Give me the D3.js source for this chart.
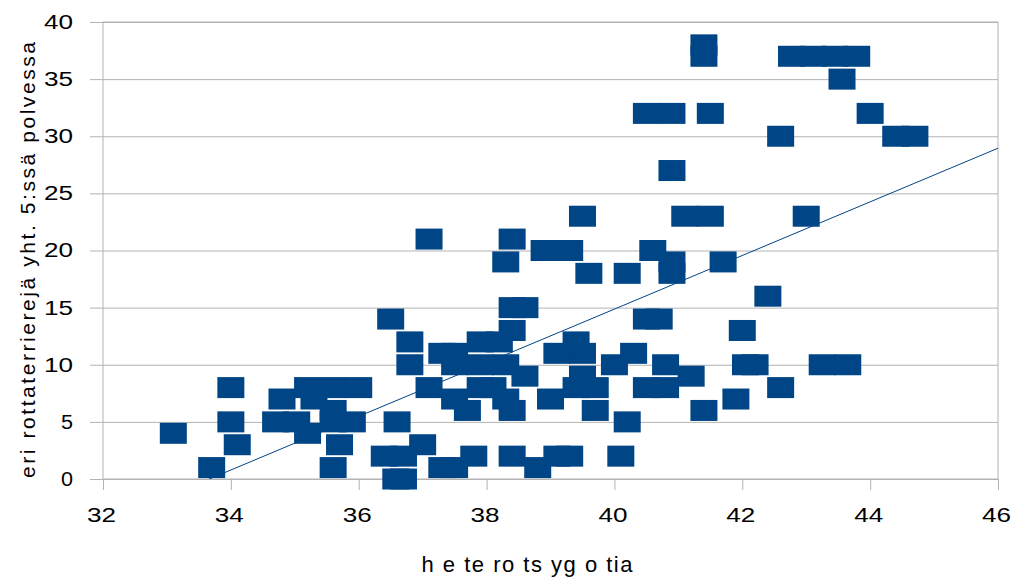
<!DOCTYPE html>
<html>
<head>
<meta charset="utf-8">
<script src="https://cdn.jsdelivr.net/npm/d3@7"></script>
<style>
    body { margin: 0; background: #fff; }
    text { font-family: "Liberation Sans", Arial, sans-serif; fill: #000; }
    .ticklabel { font-size: 20px; }
</style>
</head>
<body>
<svg id="chart" width="1014" height="579"></svg>
<script>

// heterozygosity (x) and number of different rat terriers (y)
var heterotsygotia = [
    36.58, 36.7,
    33.7, 35.6, 37.3, 37.5, 38.8,
    36.4, 36.7, 37.8, 38.4, 39.1, 39.3, 40.1,
    34.1, 35.7, 37.0,
    33.1, 35.2,
    34.0, 34.7, 35.03, 35.6, 35.9, 36.6, 40.2,
    35.6, 37.7, 38.4, 39.7, 41.4,
    34.8, 35.3, 37.5, 38.3, 39.0, 41.9,
    34.0, 35.2, 35.6, 36.0, 37.1, 37.9, 38.1, 39.4, 39.7, 40.5, 40.8, 42.6,
    38.6, 39.5, 41.2,
    36.8, 37.5, 37.9, 38.3, 40.0, 40.8, 42.05, 42.2, 43.25, 43.65,
    37.3, 37.5, 39.1, 39.5, 40.3,
    36.8, 37.9, 38.2, 39.4,
    38.4, 42.0,
    36.5, 40.5, 40.7,
    38.4, 38.6,
    42.4,
    39.6, 40.2, 40.9,
    38.3, 40.9, 41.7,
    38.9, 39.3, 40.6,
    37.1, 38.4,
    39.5, 41.1, 41.5, 43.0,
    40.9,
    42.6, 44.4, 44.7,
    40.5, 40.9, 41.5, 44.0,
    43.56,
    41.4, 42.77, 43.11, 43.45, 43.79,
    41.4
];

var rottia = [
    0, 0,
    1, 1, 1, 1, 1,
    2, 2, 2, 2, 2, 2, 2,
    3, 3, 3,
    4, 4,
    5, 5, 5, 5, 5, 5, 5,
    6, 6, 6, 6, 6,
    7, 7, 7, 7, 7, 7,
    8, 8, 8, 8, 8, 8, 8, 8, 8, 8, 8, 8,
    9, 9, 9,
    10, 10, 10, 10, 10, 10, 10, 10, 10, 10,
    11, 11, 11, 11, 11,
    12, 12, 12, 12,
    13, 13,
    14, 14, 14,
    15, 15,
    16,
    18, 18, 18,
    19, 19, 19,
    20, 20, 20,
    21, 21,
    23, 23, 23, 23,
    27,
    30, 30, 30,
    32, 32, 32, 32,
    35,
    37, 37, 37, 37, 37,
    38
];

// linear trend line  y = slope * x + intercept
var trendSlope = 2.347,
    trendIntercept = -79.01;

var xTicks = [32, 34, 36, 38, 40, 42, 44, 46],
    yTicks = [0, 5, 10, 15, 20, 25, 30, 35, 40];

var plotLeft = 103, plotRight = 998, plotTop = 22, plotBottom = 479;
var markerW = 27, markerH = 21;
var blue = "#004586", grid = "#b3b3b3";

var svg = d3.select("#chart");

var x = d3.scaleLinear()
    .domain([32, 46])
    .range([plotLeft, plotRight]);

var y = d3.scaleLinear()
    .domain([0, 40])
    .range([plotBottom, plotTop]);

// stretched digits like the original
function widenLabel(sel) {
    sel.attr("class", "ticklabel")
        .attr("textLength", function(d) { return String(d).length > 1 ? 29 : 12; })
        .attr("lengthAdjust", "spacingAndGlyphs");
}

// horizontal gridlines, with the tick part left of the axis
svg.append("g")
    .attr("transform", "translate(" + plotLeft + ",0)")
    .call(d3.axisLeft(y)
        .tickValues(yTicks)
        .tickSize(-(plotRight - plotLeft))
        .tickPadding(17)
        .tickFormat(d3.format("d")))
    .call(function(g) {
        g.select(".domain").remove();
        g.selectAll(".tick line")
            .attr("x1", -13)
            .attr("stroke", grid);
        g.selectAll(".tick text")
            .attr("x", -30)
            .call(widenLabel);
    });

// x axis, ticks below
svg.append("g")
    .attr("transform", "translate(0," + plotBottom + ")")
    .call(d3.axisBottom(x)
        .tickValues(xTicks)
        .tickSize(11)
        .tickPadding(18)
        .tickFormat(d3.format("d")))
    .call(function(g) {
        g.select(".domain").remove();
        g.selectAll(".tick line").attr("stroke", grid);
        g.selectAll(".tick text")
            .attr("dx", "-2px")
            .call(widenLabel);
    });

svg.selectAll("g").attr("font-family", null).attr("font-size", null);

// frame of plot area
svg.append("rect")
    .attr("x", plotLeft)
    .attr("y", plotTop)
    .attr("width", plotRight - plotLeft)
    .attr("height", plotBottom - plotTop)
    .attr("fill", "none")
    .attr("stroke", grid);

// clip for the trend line
svg.append("defs").append("clipPath")
    .attr("id", "plotclip")
    .append("rect")
    .attr("x", plotLeft)
    .attr("y", plotTop)
    .attr("width", plotRight - plotLeft)
    .attr("height", plotBottom - plotTop);

var trendX = x.domain();
svg.append("line")
    .attr("clip-path", "url(#plotclip)")
    .attr("x1", x(trendX[0]))
    .attr("y1", y(trendSlope * trendX[0] + trendIntercept))
    .attr("x2", x(trendX[1]))
    .attr("y2", y(trendSlope * trendX[1] + trendIntercept))
    .attr("stroke", blue)
    .attr("stroke-width", 1);

// markers
svg.append("g")
    .selectAll("rect")
    .data(d3.range(heterotsygotia.length))
    .enter().append("rect")
    .attr("x", function(i) { return x(heterotsygotia[i]) - markerW / 2; })
    .attr("y", function(i) { return y(rottia[i]) - markerH / 2; })
    .attr("width", markerW)
    .attr("height", markerH)
    .attr("fill", blue);

// axis titles
svg.append("text")
    .attr("text-anchor", "middle")
    .attr("transform", "translate(35,260) rotate(-90)")
    .style("font-size", "21px")
    .attr("textLength", 436)
    .attr("lengthAdjust", "spacing")
    .text("eri rottaterrierejä yht. 5:ssä polvessa");

svg.append("text")
    .attr("text-anchor", "middle")
    .attr("x", 527)
    .attr("y", 572)
    .style("font-size", "22px")
    .attr("textLength", 211)
    .attr("lengthAdjust", "spacing")
    .text("h e te ro ts yg o tia");

</script>
</body>
</html>
